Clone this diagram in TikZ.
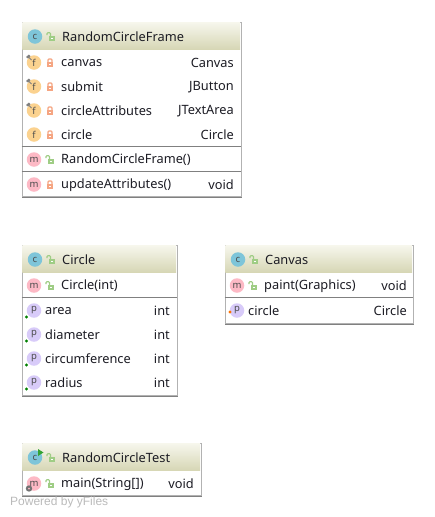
\documentclass[tikz,border=0pt]{standalone}
\usepackage{fontspec}
\setmainfont{Noto Sans}
\newfontfamily\yfilesfont{Liberation Sans}
\definecolor{iconc}{HTML}{7EC5D9}
\definecolor{iconf}{HTML}{FBD28F}
\definecolor{iconm}{HTML}{FDB9C5}
\definecolor{iconp}{HTML}{D8CBF9}
\definecolor{lockred}{HTML}{F5A582}
\definecolor{lockgreen}{HTML}{9FCD85}
\definecolor{headtop}{HTML}{F6F6EC}
\definecolor{headbot}{HTML}{D6D6B4}
\definecolor{txt}{HTML}{1C1C24}
\tikzset{
    classbox/.style = {rectangle, draw=black!30, fill=white, anchor=north west, inner sep=0pt, line width=0.9pt},
    shadowbox/.style = {rectangle, fill=black!50, anchor=north west, inner sep=0pt},
    headbox/.style = {rectangle, anchor=north west, inner sep=0pt, top color=headtop, bottom color=headbot},
    icon/.style = {circle, inner sep=0pt, minimum size=14.5pt, yshift=-0.5pt, text=black!70, font=\fontsize{9.5}{10}\selectfont},
    member/.style = {anchor=west, inner sep=0pt, yshift=-1pt, text=txt, font=\fontsize{12.8}{15}\selectfont},
    title/.style = {member},
    kind/.style = {anchor=east, inner sep=0pt, yshift=-1pt, text=txt, font=\fontsize{12.8}{15}\selectfont},
    sepline/.style = {draw=black!50, line width=0.9pt},
    lockshut/.pic = {
        \fill[lockred] (-3,-0.5) rectangle (3,4);
        \draw[lockred,line width=1.1pt,rounded corners=1pt] (-2,-0.5) -- (-2,-3.5) -- (2,-3.5) -- (2,-0.5);
        \fill[white] (-0.7,1) rectangle (0.7,2.4);
    },
    lockopen/.pic = {
        \fill[lockgreen] (-2,-0.5) rectangle (4,4);
        \draw[lockgreen,line width=1.1pt,rounded corners=1pt] (-4,-1.5) -- (-4,-3.8) -- (-0.5,-3.8) -- (-0.5,-0.5);
        \fill[white] (0.3,1) rectangle (1.7,2.4);
    },
    pinmark/.pic = {
        \draw[black!50,line width=1pt] (-6.5,-6.5) -- (-2.5,-2.5);
        \fill[black!50] (-8,-5.5) -- (-5,-8) -- (-3.5,-6.5) -- (-6,-4) -- cycle;
    },
    x=1pt, y=-1pt,
}
\begin{document}
\begin{tikzpicture}
\useasboundingbox (0,0) rectangle (434,517);
%
% RandomCircleFrame
\node[shadowbox, minimum width=220.2pt, minimum height=175.2pt] at (22,22.5) (frameshadow) {};
\node[classbox, minimum width=219pt, minimum height=174pt] at (21.5,22) (frame) {};
\node[headbox, minimum width=217.6pt, minimum height=27pt] at (22.2,22.5) (framehead) {};
\node[icon, fill=iconc] at (35,36) (framec) {c};
\pic at (51,36.5) {lockopen};
\node[title] at (62,36) (frametitle) {RandomCircleFrame};
%
\node[icon, fill=iconf] at (34,62) (f1) {f};
\pic at (34,62.5) {pinmark};
\pic at (50,62.5) {lockshut};
\node[member] at (61,62) (canvas) {canvas};
\node[kind] at (234,62) (canvast) {Canvas};
\node[icon, fill=iconf] at (34,86) (f2) {f};
\pic at (34,86.5) {pinmark};
\pic at (50,86.5) {lockshut};
\node[member] at (61,86) (submit) {submit};
\node[kind] at (234,86) (submitt) {JButton};
\node[icon, fill=iconf] at (34,110) (f3) {f};
\pic at (34,110.5) {pinmark};
\pic at (50,110.5) {lockshut};
\node[member] at (61,110) (attrs) {circleAttributes};
\node[kind] at (234,110) (attrst) {JTextArea};
\node[icon, fill=iconf] at (34,134) (f4) {f};
\pic at (50,134.5) {lockshut};
\node[member] at (61,134) (circlef) {circle};
\node[kind] at (234,134) (circleft) {Circle};
\draw[sepline] (frame.west |- 0,146.5) -- (frame.east |- 0,146.5);
\node[icon, fill=iconm] at (34,159) (m1) {m};
\pic at (50,159.5) {lockopen};
\node[member] at (61,159) (ctor) {RandomCircleFrame()};
\draw[sepline] (frame.west |- 0,171.5) -- (frame.east |- 0,171.5);
\node[icon, fill=iconm] at (34,184) (m2) {m};
\pic at (50,184.5) {lockshut};
\node[member] at (61,184) (update) {updateAttributes()};
\node[kind] at (234,184) (updatet) {void};
%
% Circle
\node[shadowbox, minimum width=156.2pt, minimum height=151.2pt] at (22,245.5) (circleshadow) {};
\node[classbox, minimum width=155pt, minimum height=150pt] at (21.5,245) (circle) {};
\node[headbox, minimum width=153.6pt, minimum height=27pt] at (22.2,245.5) (circlehead) {};
\node[icon, fill=iconc] at (35,259) (circlec) {c};
\pic at (51,259.5) {lockopen};
\node[title] at (62,259) (circletitle) {Circle};
%
\node[icon, fill=iconm] at (34,285) (m3) {m};
\pic at (50,285.5) {lockopen};
\node[member] at (61,285) (circlector) {Circle(int)};
\draw[sepline] (circle.west |- 0,297.5) -- (circle.east |- 0,297.5);
\foreach \name/\txt/\ypos in {area/area/310, diam/diameter/334, circum/circumference/358, radius/radius/382} {
    \node[icon, fill=iconp] at (34,\ypos) (p\name) {p};
    \fill[green!50!black] ([shift={(-7.5,6.5)}]p\name.center) circle (1.6pt);
    \node[member] at (45,\ypos) (\name) {\txt};
    \node[kind] at (170,\ypos) (\name t) {int};
}
%
% Canvas
\node[shadowbox, minimum width=189.2pt, minimum height=79.2pt] at (225,245.5) (canvasshadow) {};
\node[classbox, minimum width=188pt, minimum height=78pt] at (224.5,245) (canvasbox) {};
\node[headbox, minimum width=186.6pt, minimum height=27pt] at (225.2,245.5) (canvashead) {};
\node[icon, fill=iconc] at (238,259) (canvasc) {c};
\pic at (254,259.5) {lockopen};
\node[title] at (265,259) (canvastitle) {Canvas};
%
\node[icon, fill=iconm] at (237,285) (m4) {m};
\pic at (253,285.5) {lockopen};
\node[member] at (264,285) (paint) {paint(Graphics)};
\node[kind] at (407,285) (paintt) {void};
\draw[sepline] (canvasbox.west |- 0,297.5) -- (canvasbox.east |- 0,297.5);
\node[icon, fill=iconp] at (237,310) (p5) {p};
\fill[orange!90!red] ([shift={(-7,1.5)}]p5.center) circle (1.6pt);
\node[member] at (248,310) (circlep) {circle};
\node[kind] at (407,310) (circlept) {Circle};
%
% RandomCircleTest
\node[shadowbox, minimum width=180.2pt, minimum height=53.2pt] at (22,443.5) (testshadow) {};
\node[classbox, minimum width=179pt, minimum height=52pt] at (21.5,443) (test) {};
\node[headbox, minimum width=177.6pt, minimum height=27pt] at (22.2,443.5) (testhead) {};
\node[icon, fill=iconc] at (35,457) (testc) {c};
\fill[green!55!black!80] (38,449) -- (43.5,452.5) -- (38,456) -- cycle;
\pic at (51,457.5) {lockopen};
\node[title] at (62,457) (testtitle) {RandomCircleTest};
%
\node[icon, fill=iconm] at (34,483) (m5) {m};
\fill[black!55] (29,488.5) circle (3.2pt);
\fill[iconm] (29,488.5) circle (1pt);
\pic at (50,483.5) {lockopen};
\node[member] at (61,483) (mainm) {main(String[])};
\node[kind] at (194,483) (maint) {void};
%
\node[anchor=west, inner sep=0pt, text=black!27, font=\yfilesfont\fontsize{12}{14}\selectfont] at (10,502) (powered) {Powered by yFiles};
\end{tikzpicture}
\end{document}
